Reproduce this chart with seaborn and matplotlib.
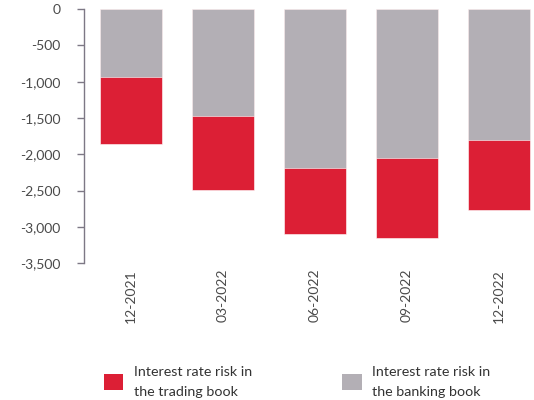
import matplotlib
matplotlib.use("Agg")
import matplotlib.pyplot as plt
import seaborn as sns
import pandas as pd
from matplotlib.patches import Patch

# Quarterly interest rate risk, split by book
periods = ["12-2021", "03-2022", "06-2022", "09-2022", "12-2022"]
trading_book = [-920, -1020, -910, -1100, -955]
banking_book = [-940, -1475, -2190, -2045, -1805]
yticks = [0, -500, -1000, -1500, -2000, -2500, -3000, -3500]

RED = "#DC1F35"
GREY = "#B3AFB5"
AXIS = "#7D7885"
TEXT = "#4A4A4A"

df = pd.DataFrame({
    "period": periods,
    "trading": trading_book,
    "banking": banking_book,
})
df["total"] = df["trading"] + df["banking"]

sns.set_theme(style="white")
plt.rcParams["font.family"] = ["Lato", "DejaVu Sans"]

fig = plt.figure(figsize=(5.34, 4.0), dpi=100)
ax = fig.add_axes([84 / 534, 1 - 263.3 / 400, 1 - 84 / 534, (263.3 - 9) / 400])

# Stacked bars: full stack in red, banking-book part overlaid in grey
sns.barplot(data=df, x="period", y="total", color=RED, width=0.675,
            saturation=1, edgecolor="white", linewidth=0.4, ax=ax)
sns.barplot(data=df, x="period", y="banking", color=GREY, width=0.675,
            saturation=1, edgecolor="white", linewidth=0.4, ax=ax)

ax.set_ylim(-3500, 0)
ax.set_xlim(-0.51, 4 + (534 - 498.5) / 92)
ax.set_yticks(yticks)
ax.set_yticklabels([f"{v:,}" for v in yticks])
ax.set_xlabel("")
ax.set_ylabel("")

for side in ["top", "right", "bottom"]:
    ax.spines[side].set_visible(False)
ax.spines["left"].set_color(AXIS)
ax.spines["left"].set_linewidth(1.0)
ax.tick_params(axis="y", which="both", left=True, length=5, width=1.0,
               color=AXIS, labelsize=10, labelcolor=TEXT, pad=12)
ax.tick_params(axis="x", bottom=False, labelsize=10, labelcolor=TEXT, pad=-2)
for lbl in ax.get_xticklabels():
    lbl.set_rotation(90)

handles = [
    Patch(facecolor=RED, edgecolor="none", label="Interest rate risk in\nthe trading book"),
    Patch(facecolor=GREY, edgecolor="none", label="Interest rate risk in\nthe banking book"),
]
leg = fig.legend(handles=handles, loc="upper left", bbox_to_anchor=(104 / 534, 0.085),
                 ncol=2, frameon=False, fontsize=10.3, labelcolor="#333333",
                 handlelength=1.35, handleheight=1.35, handletextpad=0.75,
                 columnspacing=6.3, borderaxespad=0, borderpad=0)
for t in leg.get_texts():
    t.set_linespacing(1.8)

fig.savefig("out.png", dpi=100)
